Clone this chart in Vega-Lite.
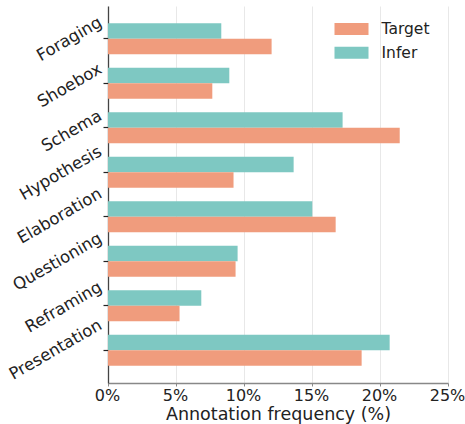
{
  "$schema": "https://vega.github.io/schema/vega-lite/v6.json",
  "width": 340,
  "height": 377,
  "autosize": {"type": "none"},
  "padding": {"left": 108, "top": 6, "right": 17, "bottom": 41},
  "background": "white",
  "config": {"view": {"stroke": null}, "font": "DejaVu Sans"},
  "data": {"values": [
    {"phase": "Foraging", "series": "Infer", "value": 8.33},
    {"phase": "Foraging", "series": "Target", "value": 12.03},
    {"phase": "Shoebox", "series": "Infer", "value": 8.92},
    {"phase": "Shoebox", "series": "Target", "value": 7.67},
    {"phase": "Schema", "series": "Infer", "value": 17.25},
    {"phase": "Schema", "series": "Target", "value": 21.45},
    {"phase": "Hypothesis", "series": "Infer", "value": 13.65},
    {"phase": "Hypothesis", "series": "Target", "value": 9.23},
    {"phase": "Elaboration", "series": "Infer", "value": 15.02},
    {"phase": "Elaboration", "series": "Target", "value": 16.74},
    {"phase": "Questioning", "series": "Infer", "value": 9.53},
    {"phase": "Questioning", "series": "Target", "value": 9.38},
    {"phase": "Reframing", "series": "Infer", "value": 6.86},
    {"phase": "Reframing", "series": "Target", "value": 5.26},
    {"phase": "Presentation", "series": "Infer", "value": 20.71},
    {"phase": "Presentation", "series": "Target", "value": 18.65}
  ]},
  "mark": {"type": "bar"},
  "encoding": {
    "y": {
      "field": "phase", "type": "nominal",
      "sort": ["Foraging", "Shoebox", "Schema", "Hypothesis", "Elaboration", "Questioning", "Reframing", "Presentation"],
      "scale": {"paddingInner": 0.3, "paddingOuter": 0.385},
      "axis": {
        "title": null, "labelAngle": -30, "labelAlign": "right", "labelBaseline": "middle",
        "labelFontSize": 16.5, "labelColor": "#222", "tickSize": 5, "tickColor": "#222", "tickWidth": 1.2,
        "domainColor": "#444", "domainWidth": 1.3, "labelPadding": 3, "grid": false,
        "labelOffset": {"expr": "-2.2*length(datum.label)"}
      }
    },
    "yOffset": {"field": "series", "type": "nominal", "sort": ["Infer", "Target"], "scale": {"paddingInner": 0, "paddingOuter": 0}},
    "x": {
      "field": "value", "type": "quantitative",
      "scale": {"domain": [0, 25], "nice": false},
      "axis": {
        "title": "Annotation frequency (%)", "titleFontSize": 17.5, "titleFontWeight": "normal", "titleColor": "#222",
        "labelFontSize": 16, "labelColor": "#222", "values": [0, 5, 10, 15, 20, 25],
        "labelExpr": "datum.value + '%'", "grid": true, "gridColor": "#e8e8e8", "gridWidth": 1,
        "domainColor": "#888", "domainWidth": 1.3, "tickColor": "#888", "tickSize": 3, "labelPadding": 1.5,
        "labelOffset": -1, "titlePadding": 1.5, "labelFlush": false
      }
    },
    "color": {
      "field": "series", "type": "nominal",
      "scale": {"domain": ["Target", "Infer"], "range": ["#f09c7d", "#7ec8c2"]},
      "legend": {
        "title": null, "orient": "none", "legendX": 235, "legendY": 14.5, "padding": 0,
        "symbolType": "M-2,-0.7H2V0.7H-2Z", "symbolSize": 289, "symbolStrokeWidth": 0, "symbolOpacity": 1,
        "labelFontSize": 15.5, "labelColor": "#222", "labelOffset": 21.5, "rowPadding": 6.7
      }
    }
  }
}
